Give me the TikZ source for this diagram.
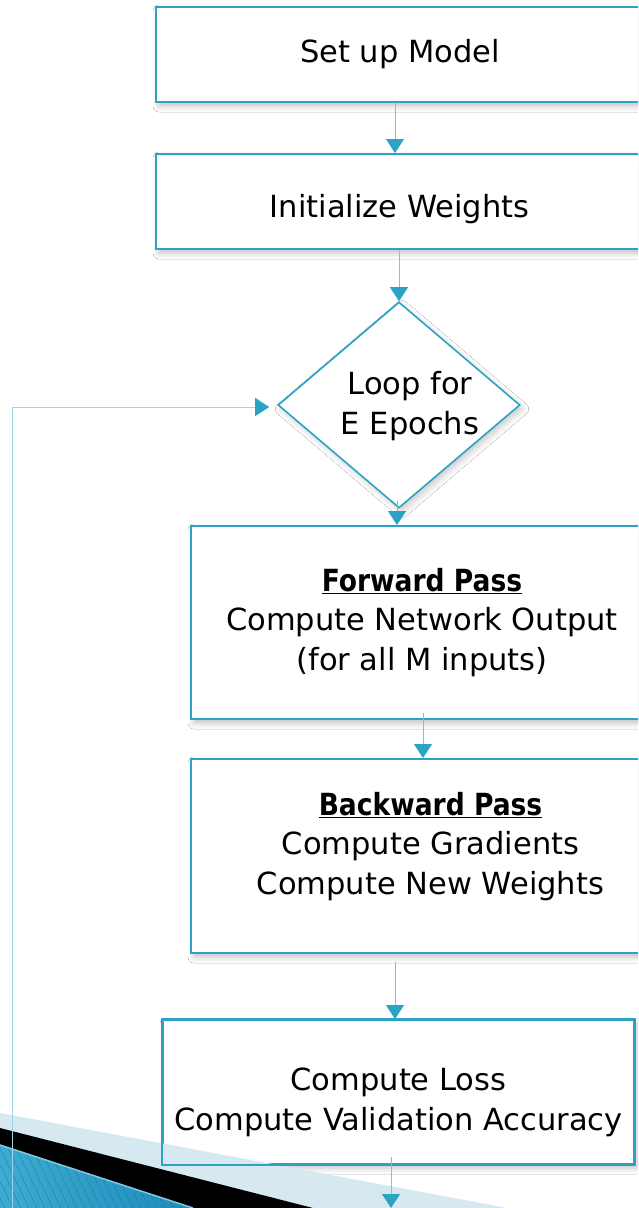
\documentclass[tikz,border=0pt]{standalone}
\usepackage{fontspec}
\setmainfont{DejaVu Sans}
\usetikzlibrary{arrows.meta,shadows.blur,calc,shapes.geometric}
\definecolor{boxcol}{RGB}{44,163,196}
\definecolor{arrowcol}{RGB}{43,163,196}
\definecolor{linecol}{RGB}{120,196,218}
\definecolor{loopcol}{RGB}{160,212,228}
\definecolor{bandlight}{RGB}{214,233,241}
\definecolor{hatchL}{RGB}{62,172,210}
\definecolor{hatchR}{RGB}{25,140,185}
\definecolor{stripecol}{RGB}{30,120,160}
\definecolor{edgecol}{RGB}{130,200,225}
\begin{document}
\begin{tikzpicture}[x=1pt,y=-1pt,
  box/.style={draw=boxcol, line width=2pt, fill=white, rectangle, inner sep=0pt,
    blur shadow={shadow xshift=3pt, shadow yshift=-4pt, shadow blur radius=6pt, shadow opacity=25}},
  diam/.style={draw=boxcol, line width=1.6pt, fill=white, diamond, inner sep=0pt,
    blur shadow={shadow xshift=3pt, shadow yshift=-4pt, shadow blur radius=6pt, shadow opacity=20}},
  txt/.style={font=\fontsize{30.5}{39.5}\selectfont, align=center, inner sep=0pt, anchor=base},
  conn/.style={draw=linecol, line width=1pt, -{Triangle[width=18pt,length=14pt,color=arrowcol]}},
  loopline/.style={draw=loopcol, line width=1pt, -{Triangle[width=18pt,length=14pt,color=arrowcol]}},
]
\useasboundingbox (0,0) rectangle (638,1208);
\clip (0,0) rectangle (638,1208);
\fill[white] (0,0) rectangle (638,1208);

% boxes
\node[box, minimum width=488pt, minimum height=95pt] (b1) at (400,54.5) {};
\node[box, minimum width=487pt, minimum height=95pt] (b2) at (399.5,201.5) {};
\node[diam, minimum width=242pt, minimum height=206pt] (dia) at (399,405) {};
\node[box, minimum width=462pt, minimum height=193pt] (b3) at (422,622.5) {};
\node[box, minimum width=479pt, minimum height=194pt] (b4) at (430.5,856) {};
\node[box, minimum width=471pt, minimum height=144pt] (b5) at (398.5,1092) {};

% texts (base anchor = baseline of last line)
\node[txt] (t1) at (400,62) {Set up Model};
\node[txt] (t2) at (399.5,217) {Initialize Weights};
\node[txt] (t3) at (410,434) {Loop for\\E Epochs};
\node[txt] (t4) at (422,670) {\scalebox{0.87}[1]{\bfseries\underline{Forward Pass}}\\Compute Network Output\\(for all M inputs)};
\node[txt] (t5) at (430.5,894) {\scalebox{0.87}[1]{\bfseries\underline{Backward Pass}}\\Compute Gradients\\Compute New Weights};
\node[txt] (t6) at (398.5,1130) {Compute Loss\\Compute Validation Accuracy};

% decoration bottom-left
\fill[bandlight] (0,1113) -- (507,1208) -- (0,1208) -- cycle;
\fill[black] (0,1128) -- (313,1208) -- (0,1208) -- cycle;
\begin{scope}
  \clip (0,1145) -- (193,1208) -- (0,1208) -- cycle;
  \shade[left color=hatchL, right color=hatchR] (0,1140) rectangle (200,1208);
  \foreach \i in {-60,-52,...,220} {
    \draw[stripecol, line width=0.6pt, opacity=0.6] (\i,1140) -- ++(34,70);
  }
\end{scope}
\draw[edgecol, line width=1.5pt] (0,1145) -- (193,1208);

% redraw border of last box over band
\draw[draw=boxcol, line width=2pt] (b5.south west) rectangle (b5.north east);

% connectors
\coordinate (loopstart) at (12,1208);
\coordinate (bottomend) at (391,1208);
\draw[conn] ([xshift=-5pt]b1.south) -- ([xshift=-5pt]b1.south |- b2.north);
\draw[conn] (b2.south -| dia.north) -- (dia.north);
\draw[conn] ([xshift=-2pt,yshift=8pt]dia.south) -- ([xshift=-2pt]dia.south |- b3.north);
\draw[conn] ([xshift=1pt,yshift=7pt]b3.south) -- ([xshift=1pt]b3.south |- b4.north);
\draw[conn] ([xshift=-3.5pt,yshift=-8pt]b4.south -| b5.north) -- ([xshift=-3.5pt]b5.north);
\draw[conn] ([xshift=-7.5pt,yshift=8pt]b5.south) -- (bottomend);
\draw[loopline] (loopstart) |- ([xshift=-8pt,yshift=-2pt]dia.west);
\end{tikzpicture}
\end{document}
